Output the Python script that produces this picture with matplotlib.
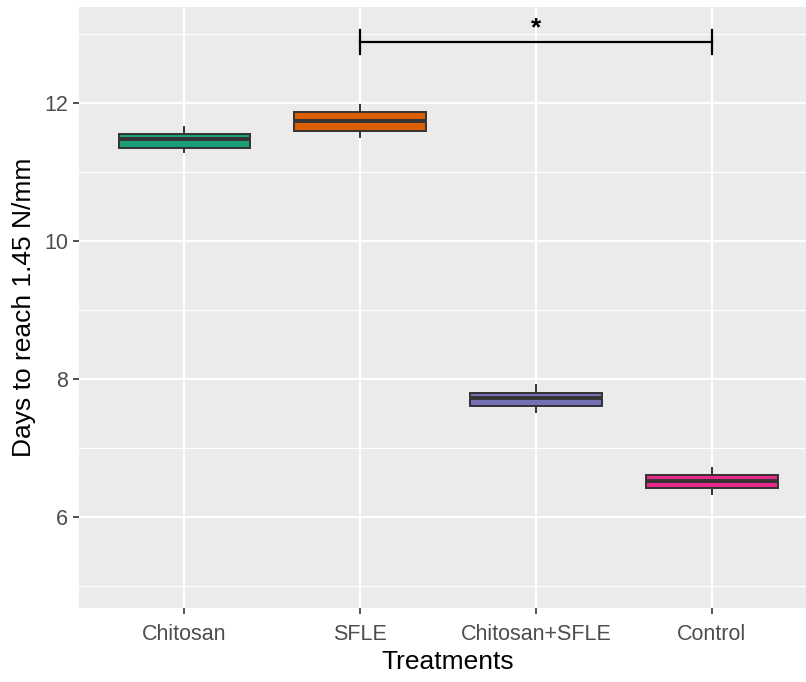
import matplotlib
matplotlib.use("Agg")
import matplotlib.pyplot as plt
from matplotlib.ticker import MultipleLocator

plt.rcParams["font.family"] = ["Liberation Sans", "DejaVu Sans"]

# valores
tratamentos = ["Chitosan", "SFLE", "Chitosan+SFLE", "Control"]
bigode_min = [11.28, 11.50, 7.52, 6.33]
q1 = [11.35, 11.59, 7.60, 6.42]
mediana = [11.47, 11.73, 7.72, 6.52]
q3 = [11.55, 11.86, 7.79, 6.61]
bigode_max = [11.65, 11.96, 7.905, 6.71]
cores = ["#1B9E77", "#D95F02", "#7570B3", "#E7298A"]

# comparacao significativa
sig_grupos = ["SFLE", "Control"]
sig_y = 12.88
sig_label = "*"

fig = plt.figure(figsize=(8.06, 6.82), dpi=100)
# painel vai um pouco alem da borda direita (imagem cortada)
ax = fig.add_axes([0.098, 0.109, 0.916, 0.881])
ax.set_facecolor("#EBEBEB")

stats = []
for i, t in enumerate(tratamentos):
    stats.append({"label": t, "whislo": bigode_min[i], "q1": q1[i], "med": mediana[i],
                  "q3": q3[i], "whishi": bigode_max[i], "fliers": []})

pos = list(range(1, len(tratamentos) + 1))
bp = ax.bxp(stats, positions=pos, widths=0.75, patch_artist=True, showcaps=False,
            boxprops=dict(edgecolor="#333333", linewidth=1.4),
            whiskerprops=dict(color="#333333", linewidth=1.4),
            medianprops=dict(color="#333333", linewidth=2.8), zorder=3)
for patch, c in zip(bp["boxes"], cores):
    patch.set_facecolor(c)

# barra de significancia
x1 = pos[tratamentos.index(sig_grupos[0])]
x2 = pos[tratamentos.index(sig_grupos[1])]
ax.plot([x1, x2], [sig_y, sig_y], color="black", linewidth=1.6, zorder=4)
ax.plot([x1, x1], [sig_y - 0.18, sig_y + 0.18], color="black", linewidth=1.6, zorder=4)
ax.plot([x2, x2], [sig_y - 0.18, sig_y + 0.18], color="black", linewidth=1.6, zorder=4)
ax.text((x1 + x2) / 2, sig_y + 0.02, sig_label, ha="center", va="bottom", fontsize=19,
        fontweight="bold", zorder=4)

ax.set_xlim(0.4, 4.6)
ax.set_ylim(4.68, 13.39)
ax.set_xticks(pos)
ax.set_xticklabels(tratamentos)
ax.set_yticks([6, 8, 10, 12])
ax.yaxis.set_minor_locator(MultipleLocator(1))
ax.grid(which="major", color="white", linewidth=1.6, zorder=0)
ax.grid(which="minor", axis="y", color="white", linewidth=0.8, zorder=0)
ax.set_axisbelow(True)
ax.tick_params(which="minor", length=0)
ax.tick_params(which="major", length=4, width=1.2, color="#333333", labelcolor="#4D4D4D",
               labelsize=15.5)
ax.tick_params(axis="x", pad=7.5)
ax.tick_params(axis="y", pad=4)
for s in ax.spines.values():
    s.set_visible(False)

ax.set_xlabel("Treatments", fontsize=19, labelpad=4)
ax.set_ylabel("Days to reach 1.45 N/mm", fontsize=19, labelpad=6)

plt.savefig("out.png")
